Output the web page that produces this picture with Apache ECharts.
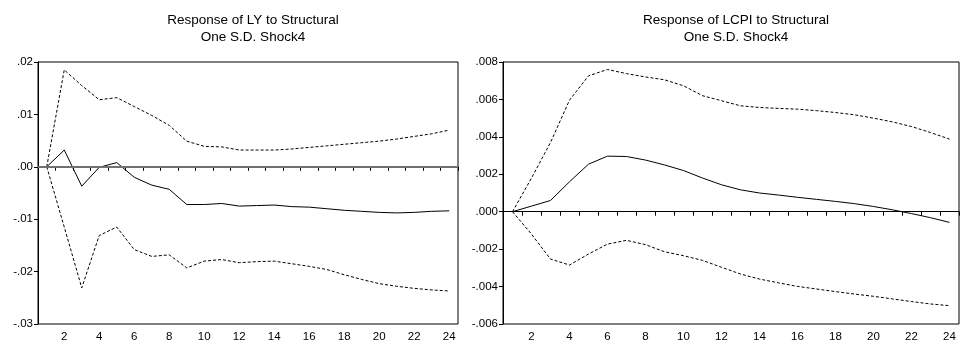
<!DOCTYPE html>
<html>
<head>
<meta charset="utf-8">
<script src="https://cdn.jsdelivr.net/npm/echarts@6/dist/echarts.min.js"></script>
<style>
  html, body { margin: 0; padding: 0; background: #fff; }
  #chart { width: 961px; height: 345px; }
</style>
</head>
<body>
<div id="chart"></div>
<script>
// Horizons 1..24
const periods = Array.from({ length: 24 }, (_, i) => String(i + 1));

// Response of LY to structural shock 4
const lyResponse = [0, 0.0032, -0.0037, -0.0001, 0.0008, -0.0020, -0.0035, -0.0043, -0.0072, -0.0072,
  -0.0070, -0.0075, -0.0074, -0.0073, -0.0076, -0.0077, -0.0080, -0.0083, -0.0085, -0.0087,
  -0.0088, -0.0087, -0.0085, -0.0084];
const lyUpper = [0, 0.0185, 0.0155, 0.0128, 0.0132, 0.0115, 0.0098, 0.0079, 0.0049, 0.0039,
  0.0038, 0.0032, 0.0032, 0.0032, 0.0034, 0.0037, 0.0040, 0.0043, 0.0046, 0.0049,
  0.0053, 0.0058, 0.0063, 0.0070];
const lyLower = [0, -0.0115, -0.0231, -0.0131, -0.0115, -0.0158, -0.0171, -0.0168, -0.0193, -0.0180,
  -0.0177, -0.0183, -0.0181, -0.0180, -0.0185, -0.0190, -0.0196, -0.0206, -0.0215, -0.0223,
  -0.0228, -0.0232, -0.0235, -0.0237];

// Response of LCPI to structural shock 4
const lcpiResponse = [0, 0.0003, 0.0006, 0.0016, 0.00254, 0.00297, 0.00295, 0.00276, 0.0025, 0.0022,
  0.0018, 0.00144, 0.00117, 0.0010, 0.00089, 0.00077, 0.00066, 0.00055, 0.00043, 0.00028,
  0.0001, -0.0001, -0.00032, -0.00057];
const lcpiUpper = [0, 0.0018, 0.0037, 0.00596, 0.00726, 0.0076, 0.00738, 0.0072, 0.00705, 0.00673,
  0.0062, 0.00593, 0.00566, 0.00557, 0.00552, 0.00548, 0.0054, 0.0053, 0.00518, 0.0050,
  0.0048, 0.00455, 0.00423, 0.00388];
const lcpiLower = [0, -0.0012, -0.00253, -0.00285, -0.00226, -0.00173, -0.00153, -0.00176, -0.00214, -0.00235,
  -0.0026, -0.00297, -0.00333, -0.0036, -0.0038, -0.00399, -0.00413, -0.00427, -0.0044, -0.00452,
  -0.00466, -0.0048, -0.00493, -0.00502];

const titles = [
  'Response of LY to Structural\nOne S.D. Shock4',
  'Response of LCPI to Structural\nOne S.D. Shock4'
];

const FONT = '"Liberation Sans", Arial, sans-serif';

// ".02", "-.01", ".000" style labels
function dropLeadingZero(v, digits) {
  const s = Number(v).toFixed(digits);
  return s.replace(/^(-?)0\./, '$1.');
}

function xAxis(gridIndex) {
  return {
    type: 'category',
    gridIndex,
    data: periods,
    boundaryGap: true,
    axisLine: { lineStyle: { color: '#000', width: 1 } },
    axisTick: { show: true, interval: 0, length: 4, lineStyle: { color: '#000' } },
    axisLabel: {
      interval: (i) => i % 2 === 1,
      color: '#000', fontFamily: FONT, fontSize: 11.5, margin: 7
    },
    splitLine: { show: false }
  };
}

function yAxis(gridIndex, min, max, interval, digits) {
  return {
    type: 'value',
    gridIndex,
    min, max, interval,
    axisLine: { show: true, lineStyle: { color: '#000', width: 1 } },
    axisTick: { show: true, length: 4, lineStyle: { color: '#000' } },
    axisLabel: {
      color: '#000', fontFamily: FONT, fontSize: 11.5, margin: 5,
      formatter: (v) => dropLeadingZero(v, digits)
    },
    splitLine: { show: false }
  };
}

function solid(name, data, idx, zeroColor, zeroWidth) {
  return {
    name, type: 'line', data,
    xAxisIndex: idx, yAxisIndex: idx,
    symbol: 'none',
    lineStyle: { color: '#000', width: 1 },
    z: 3,
    markLine: {
      silent: true, symbol: 'none', label: { show: false },
      lineStyle: { color: zeroColor, width: zeroWidth, type: 'solid' },
      data: [{ yAxis: 0 }],
      animation: false
    }
  };
}

function band(name, data, idx) {
  return {
    name, type: 'line', data,
    xAxisIndex: idx, yAxisIndex: idx,
    symbol: 'none',
    lineStyle: { color: '#000', width: 1, type: [3, 2] },
    z: 2
  };
}

const titleStyle = { fontFamily: FONT, fontSize: 13.5, fontWeight: 'normal', color: '#000', lineHeight: 17 };

const chart = echarts.init(document.getElementById('chart'), null, { renderer: 'canvas' });
chart.setOption({
  animation: false,
  backgroundColor: '#fff',
  title: [
    { text: titles[0], left: 248, top: 7, textAlign: 'center', textStyle: titleStyle },
    { text: titles[1], left: 731, top: 7, textAlign: 'center', textStyle: titleStyle }
  ],
  grid: [
    { left: 38, width: 420, top: 62, height: 262, show: true, borderColor: '#000', borderWidth: 1, containLabel: false },
    { left: 503, width: 456, top: 62, height: 262, show: true, borderColor: '#000', borderWidth: 1, containLabel: false }
  ],
  xAxis: [xAxis(0), xAxis(1)],
  yAxis: [
    yAxis(0, -0.03, 0.02, 0.01, 2),
    yAxis(1, -0.006, 0.008, 0.002, 3)
  ],
  series: [
    solid('LY', lyResponse, 0, '#707070', 2),
    band('LY +2 S.E.', lyUpper, 0),
    band('LY -2 S.E.', lyLower, 0),
    solid('LCPI', lcpiResponse, 1, '#000', 1),
    band('LCPI +2 S.E.', lcpiUpper, 1),
    band('LCPI -2 S.E.', lcpiLower, 1)
  ]
});
</script>
</body>
</html>
